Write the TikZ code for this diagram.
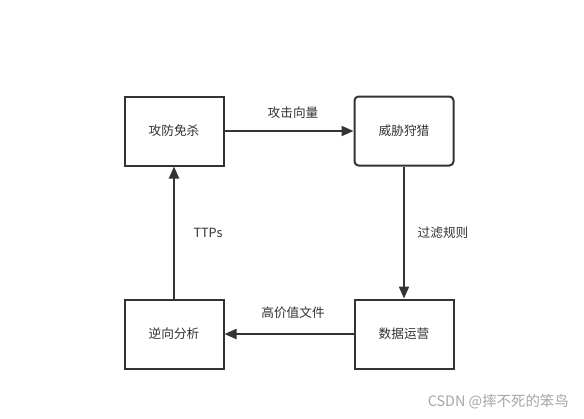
\documentclass[tikz,border=0pt]{standalone}
\usepackage{fontspec}
\setmainfont{Noto Sans CJK SC}
\usetikzlibrary{arrows.meta}
\definecolor{ink}{HTML}{333333}
\begin{document}
\begin{tikzpicture}[x=0.75pt,y=-0.75pt,
  boxstyle/.style={draw=ink,line width=1.5pt,minimum width=99*0.75pt,minimum height=69*0.75pt,inner sep=0pt,text=ink,font=\fontsize{9.5pt}{11pt}\selectfont},
  conn/.style={draw=ink,line width=1.5pt,-{Triangle[length=9pt,width=7.5pt]}},
  lab/.style={text=ink,font=\fontsize{9.5pt}{11pt}\selectfont,inner sep=0pt}]
\useasboundingbox[fill=white] (0,0) rectangle (584,418);
\node[boxstyle] (a) at (174,131) {攻防免杀};
\node[boxstyle,rounded corners=3pt] (b) at (404,131) {威胁狩猎};
\node[boxstyle] (c) at (174,334) {逆向分析};
\node[boxstyle] (d) at (404,334) {数据运营};
\draw[conn] (a) -- (b);
\draw[conn] (b) -- (d);
\draw[conn] (d) -- (c);
\draw[conn] (c) -- (a);
\node[lab] (la) at (293,113) {攻击向量};
\node[lab] (lb) at (443,233) {过滤规则};
\node[lab] (lc) at (293,313) {高价值文件};
\node[lab] (ld) at (208,233) {TTPs};
\node[lab,text=gray!70,anchor=east,font=\fontsize{10.8pt}{12pt}\selectfont] (wm) at (569,402) {CSDN @摔不死的笨鸟};
\end{tikzpicture}
\end{document}
